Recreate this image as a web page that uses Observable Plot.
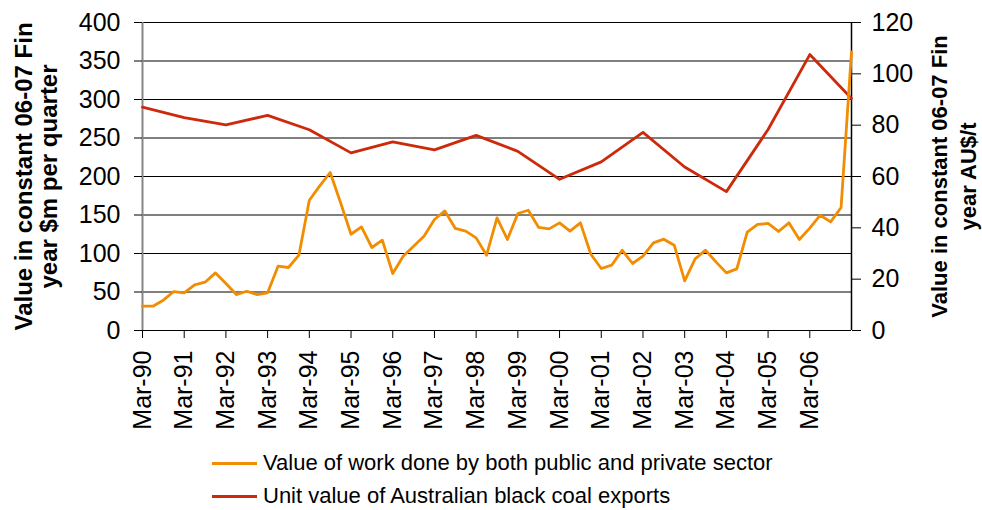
<!DOCTYPE html>
<html>
<head>
<meta charset="utf-8">
<script src="https://cdn.jsdelivr.net/npm/d3@7"></script>
<script src="https://cdn.jsdelivr.net/npm/@observablehq/plot@0.6"></script>
<style>
  html, body { margin: 0; padding: 0; background: #fff; }
  body { width: 982px; height: 510px; overflow: hidden; font-family: "Liberation Sans", Arial, sans-serif; }
  #legend { position: relative; height: 70px; }
  .row { position: absolute; left: 212px; display: flex; align-items: center; height: 30px; font-size: 22px; color: #000; }
  .swatch { width: 45px; height: 3px; margin-right: 6px; }
</style>
</head>
<body>
<div id="chart"></div>
<div id="legend"></div>
<script>
const quarters = [
  "Mar-90","Jun-90","Sep-90","Dec-90","Mar-91","Jun-91","Sep-91","Dec-91",
  "Mar-92","Jun-92","Sep-92","Dec-92","Mar-93","Jun-93","Sep-93","Dec-93",
  "Mar-94","Jun-94","Sep-94","Dec-94","Mar-95","Jun-95","Sep-95","Dec-95",
  "Mar-96","Jun-96","Sep-96","Dec-96","Mar-97","Jun-97","Sep-97","Dec-97",
  "Mar-98","Jun-98","Sep-98","Dec-98","Mar-99","Jun-99","Sep-99","Dec-99",
  "Mar-00","Jun-00","Sep-00","Dec-00","Mar-01","Jun-01","Sep-01","Dec-01",
  "Mar-02","Jun-02","Sep-02","Dec-02","Mar-03","Jun-03","Sep-03","Dec-03",
  "Mar-04","Jun-04","Sep-04","Dec-04","Mar-05","Jun-05","Sep-05","Dec-05",
  "Mar-06","Jun-06","Sep-06","Dec-06","Mar-07"
];
const workValue = [
  31.6, 31.6, 39.4, 50.6, 48.9, 59.3, 62.7, 74.8,
  61.0, 46.7, 51.0, 46.7, 48.9, 83.5, 81.8, 97.8,
  169.2, 187.8, 205.2, 166.0, 125.0, 134.6, 107.8, 117.3,
  74.0, 96.5, 109.5, 122.5, 144.2, 155.3, 132.5, 129.0,
  120.3, 97.8, 146.3, 118.2, 151.9, 156.2, 133.8, 132.0,
  139.8, 129.0, 139.8, 99.1, 80.5, 84.8, 104.3, 87.0,
  96.5, 113.8, 118.6, 110.8, 64.4, 93.0, 104.3, 89.1,
  74.8, 80.0, 127.7, 137.7, 139.0, 128.6, 139.8, 118.2,
  133.0, 149.7, 141.0, 159.7, 361.8
];
const coalDates = [
  "Mar-90","Mar-91","Mar-92","Mar-93","Mar-94","Mar-95","Mar-96","Mar-97","Mar-98",
  "Mar-99","Mar-00","Mar-01","Mar-02","Mar-03","Mar-04","Mar-05","Mar-06","Mar-07"
];
const coalValue = [
  87.0, 82.9, 80.1, 83.8, 78.2, 69.2, 73.5, 70.4, 76.0,
  69.8, 58.9, 65.7, 77.2, 63.7, 54.1, 78.3, 107.5, 90.4
];
const xTickLabels = [
  "Mar-90","Mar-91","Mar-92","Mar-93","Mar-94","Mar-95","Mar-96","Mar-97","Mar-98",
  "Mar-99","Mar-00","Mar-01","Mar-02","Mar-03","Mar-04","Mar-05","Mar-06"
];
const leftTicks = [0, 50, 100, 150, 200, 250, 300, 350, 400];
const rightTicks = [0, 20, 40, 60, 80, 100, 120];
const leftTitle = "Value in constant 06-07 Fin\nyear $m per quarter";
const rightTitle = "Value in constant 06-07 Fin\nyear AU$/t";
const seriesNames = [
  "Value of work done by both public and private sector",
  "Unit value of Australian black coal exports"
];
const seriesColors = ["#F28C00", "#CC2A0A"];

const leftMax = 400, rightMax = 120;
const toLeft = v => v * leftMax / rightMax;

const chart = Plot.plot({
  width: 982,
  height: 440,
  marginLeft: 142,
  marginRight: 131,
  marginTop: 22,
  marginBottom: 110,
  style: { fontFamily: "'Liberation Sans', Arial, sans-serif", fontSize: "25px", color: "#000", background: "#fff" },
  x: { type: "point", domain: quarters, padding: 0, round: false, inset: 0 },
  y: { domain: [0, leftMax] },
  marks: [
    Plot.ruleY(leftTicks, { stroke: "#000", strokeWidth: 1.2 }),
    Plot.ruleX([quarters[0]], { y1: 0, y2: leftMax, stroke: "#868686", strokeWidth: 2 }),
    Plot.ruleX([quarters[quarters.length - 1]], { y1: 0, y2: leftMax, stroke: "#000", strokeWidth: 1.5 }),
    Plot.axisY({ anchor: "left", ticks: leftTicks, tickSize: 8, tickPadding: 14, fontSize: 25, label: null }),
    Plot.axisY({ anchor: "right", ticks: rightTicks.map(toLeft), tickFormat: v => Math.round(v * rightMax / leftMax), tickSize: 9, tickPadding: 11, fontSize: 25, label: null }),
    Plot.axisX({ ticks: xTickLabels, tickRotate: -90, tickSize: 8, tickPadding: 12, fontSize: 25, label: null }),
    Plot.line(coalValue, { x: (d, i) => coalDates[i], y: d => toLeft(d), stroke: seriesColors[1], strokeWidth: 2.8 }),
    Plot.line(workValue, { x: (d, i) => quarters[i], y: d => d, stroke: seriesColors[0], strokeWidth: 2.8 }),
    Plot.text([leftTitle], { text: d => d, frameAnchor: "left", dx: -106, rotate: -90, fontWeight: "bold", fontSize: 24, lineHeight: 1.05, textAnchor: "middle", lineAnchor: "middle" }),
    Plot.text([rightTitle], { text: d => d, frameAnchor: "right", dx: 101, rotate: -90, fontWeight: "bold", fontSize: 22, lineHeight: 1.3, textAnchor: "middle", lineAnchor: "middle" })
  ]
});
document.getElementById("chart").appendChild(chart);

const legend = document.getElementById("legend");
seriesNames.forEach((name, i) => {
  const row = document.createElement("div");
  row.className = "row";
  row.style.top = (8 + i * 33) + "px";
  const sw = document.createElement("span");
  sw.className = "swatch";
  sw.style.background = seriesColors[i];
  const t = document.createElement("span");
  t.textContent = name;
  row.appendChild(sw);
  row.appendChild(t);
  legend.appendChild(row);
});
</script>
</body>
</html>
